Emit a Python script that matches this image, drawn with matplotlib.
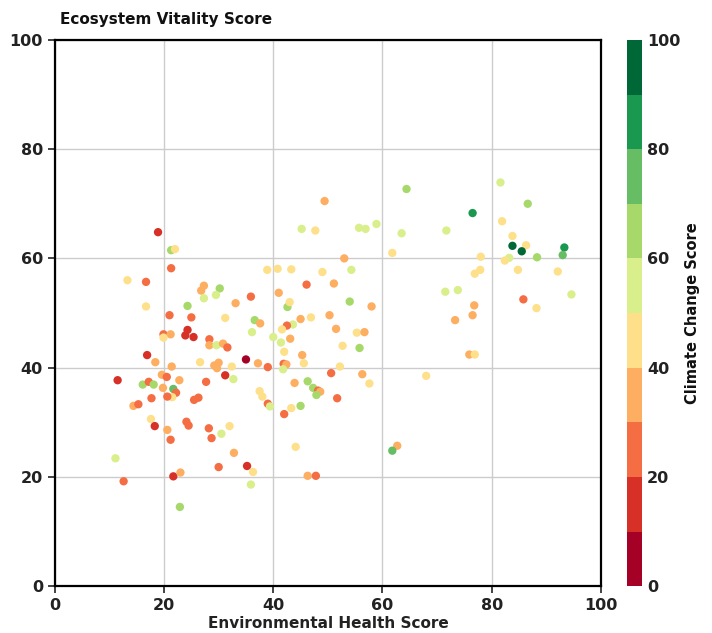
import matplotlib
matplotlib.use("Agg")
import matplotlib.pyplot as plt
from matplotlib.colors import BoundaryNorm, ListedColormap
import numpy as np

# data
env_health = [18.9, 21.3, 22.0, 21.3, 38.9, 13.3, 16.7, 27.3, 26.8, 30.2, 29.5, 27.3, 35.9, 33.1, 16.7, 24.3,
              31.2, 21.0, 25.0, 36.6, 37.6, 36.1, 24.3, 23.9, 25.4, 19.9, 21.2, 19.9, 28.3, 28.3, 29.6, 30.8,
              31.6, 16.9, 18.4, 21.4, 26.6, 29.2, 30.0, 29.7, 32.4, 35.0, 37.2, 39.0, 19.6, 20.5, 31.2, 32.7,
              11.5, 16.1, 17.2, 18.1, 22.8, 27.7, 19.8, 21.7, 22.2, 21.5, 20.6, 17.7, 26.3, 25.5, 37.5, 38.0,
              39.0, 14.4, 15.3, 17.6, 18.3, 24.1, 24.5, 20.6, 21.2, 28.2, 28.7, 30.5, 32.0, 32.8, 30.0, 35.2,
              36.3, 35.9, 11.1, 12.6, 21.7, 23.0, 22.9, 64.4, 49.4, 45.2, 47.7, 55.7, 56.9, 58.9, 63.5, 61.8,
              53.0, 40.8, 43.3, 49.0, 54.3, 46.1, 51.1, 41.0, 42.6, 43.0, 54.0, 58.0, 46.9, 45.0, 50.3, 43.6,
              42.5, 41.6, 51.5, 55.3, 56.7, 40.0, 43.1, 41.4, 42.0, 45.3, 45.6, 52.7, 55.8, 41.9, 42.4, 41.8,
              50.6, 52.2, 56.3, 57.6, 68.0, 43.9, 46.3, 47.3, 48.2, 48.6, 47.9, 51.7, 39.4, 43.3, 45.0, 42.0,
              44.1, 62.7, 61.8, 46.3, 47.8, 81.6, 86.6, 76.5, 81.9, 71.7, 83.8, 83.8, 86.3, 85.5, 93.3, 93.0,
              88.3, 78.0, 83.2, 82.4, 77.9, 76.9, 84.8, 92.1, 71.5, 73.8, 94.6, 85.8, 88.2, 76.8, 76.5, 73.3,
              75.9, 76.9]
vitality = [64.8, 61.5, 61.7, 58.2, 57.9, 56.0, 55.7, 55.0, 54.1, 54.5, 53.3, 52.7, 53.0, 51.8, 51.2, 51.3,
            49.1, 49.6, 49.2, 48.7, 48.1, 46.5, 46.9, 45.9, 45.6, 46.1, 46.1, 45.5, 45.2, 44.1, 44.1, 44.4,
            43.7, 42.3, 41.0, 40.2, 41.0, 40.4, 40.9, 39.9, 40.2, 41.5, 40.8, 40.1, 38.7, 38.3, 38.6, 37.9,
            37.7, 36.9, 37.4, 36.9, 37.7, 37.4, 36.3, 36.1, 35.4, 34.6, 34.7, 34.4, 34.5, 34.1, 35.7, 34.7,
            33.4, 33.0, 33.3, 30.6, 29.3, 30.1, 29.4, 28.6, 26.8, 28.9, 27.1, 27.9, 29.3, 24.4, 21.8, 22.0,
            20.9, 18.6, 23.4, 19.2, 20.1, 20.8, 14.5, 72.7, 70.5, 65.4, 65.1, 65.6, 65.4, 66.3, 64.6, 61.0,
            60.0, 58.1, 58.0, 57.5, 57.9, 55.2, 55.4, 53.7, 51.1, 52.0, 52.1, 51.2, 49.2, 48.9, 49.6, 47.9,
            47.7, 47.0, 47.1, 46.4, 46.5, 45.6, 45.3, 44.6, 42.9, 42.3, 40.8, 44.0, 43.6, 40.7, 40.6, 39.7,
            39.0, 40.2, 38.8, 37.1, 38.5, 37.2, 37.5, 36.3, 35.8, 35.6, 35.0, 34.4, 32.9, 32.6, 33.0, 31.5,
            25.5, 25.7, 24.8, 20.2, 20.2, 73.9, 70.0, 68.3, 66.8, 65.1, 64.1, 62.3, 62.4, 61.3, 62.0, 60.6,
            60.2, 60.3, 60.1, 59.6, 57.9, 57.2, 57.9, 57.6, 53.9, 54.2, 53.4, 52.5, 50.9, 51.4, 49.6, 48.7,
            42.4, 42.4]
climate = [15, 65, 45, 25, 45, 45, 25, 35, 35, 65, 55, 55, 25, 35, 45, 65,
           45, 25, 25, 65, 35, 55, 15, 15, 15, 25, 35, 45, 25, 35, 55, 35,
           25, 15, 35, 35, 45, 35, 35, 35, 45, 5, 35, 25, 35, 25, 15, 55,
           15, 65, 25, 65, 35, 25, 35, 75, 25, 45, 25, 25, 25, 25, 45, 45,
           25, 35, 25, 45, 15, 25, 25, 35, 25, 25, 25, 55, 45, 35, 25, 15,
           45, 55, 55, 25, 15, 35, 65, 65, 35, 55, 45, 55, 55, 55, 55, 45,
           35, 45, 45, 45, 55, 25, 35, 35, 65, 45, 65, 35, 45, 35, 35, 55,
           25, 45, 35, 45, 35, 55, 35, 55, 45, 35, 45, 45, 65, 25, 35, 55,
           25, 45, 35, 45, 45, 35, 65, 65, 25, 35, 65, 25, 55, 45, 65, 25,
           45, 35, 75, 35, 25, 55, 65, 85, 45, 55, 45, 95, 45, 95, 85, 75,
           65, 45, 55, 45, 45, 45, 45, 45, 55, 55, 55, 25, 45, 35, 35, 35,
           35, 45]

bin_colors = ['#a50026', '#d73027', '#f46d43', '#fdae61', '#fee08b',
              '#d9ef8b', '#a6d96a', '#66bd63', '#1a9850', '#006837']

plt.rcParams['font.family'] = ['DejaVu Sans']
plt.rcParams['font.weight'] = 'bold'

fig = plt.figure(figsize=(7.12, 6.33), dpi=100)
ax = fig.add_axes([0.077, 0.074, 0.767, 0.863])
cax = fig.add_axes([0.881, 0.074, 0.020, 0.863])

cmap = ListedColormap(bin_colors)
norm = BoundaryNorm(np.arange(0, 101, 10), cmap.N)

sc = ax.scatter(env_health, vitality, c=climate, cmap=cmap, norm=norm, s=36,
                linewidths=0, zorder=3)

ax.set_xlim(0, 100)
ax.set_ylim(0, 100)
ax.set_xticks(range(0, 101, 20))
ax.set_yticks(range(0, 101, 20))
ax.grid(True, color='#cccccc', linewidth=1)
ax.set_axisbelow(True)
for s in ax.spines.values():
    s.set_linewidth(1.6)
    s.set_color('black')
ax.tick_params(labelsize=11.5, width=1.2, length=5, colors='#222222')
for lab in ax.get_xticklabels() + ax.get_yticklabels():
    lab.set_fontweight('bold')
ax.set_xlabel('Environmental Health Score', fontsize=11, fontweight='bold', labelpad=2, color='#222222')
fig.text(0.084, 0.969, 'Ecosystem Vitality Score', fontsize=11, fontweight='bold',
         ha='left', va='center', color='#111111')

cb = fig.colorbar(sc, cax=cax, ticks=range(0, 101, 20))
cb.outline.set_visible(False)
cb.ax.minorticks_off()
cb.ax.tick_params(labelsize=11.5, length=0, pad=4, colors='#222222')
for lab in cb.ax.get_yticklabels():
    lab.set_fontweight('bold')
cb.set_label('Climate Change Score', fontsize=10.5, fontweight='bold', labelpad=3, color='#111111')

fig.savefig('out.png', dpi=100)
